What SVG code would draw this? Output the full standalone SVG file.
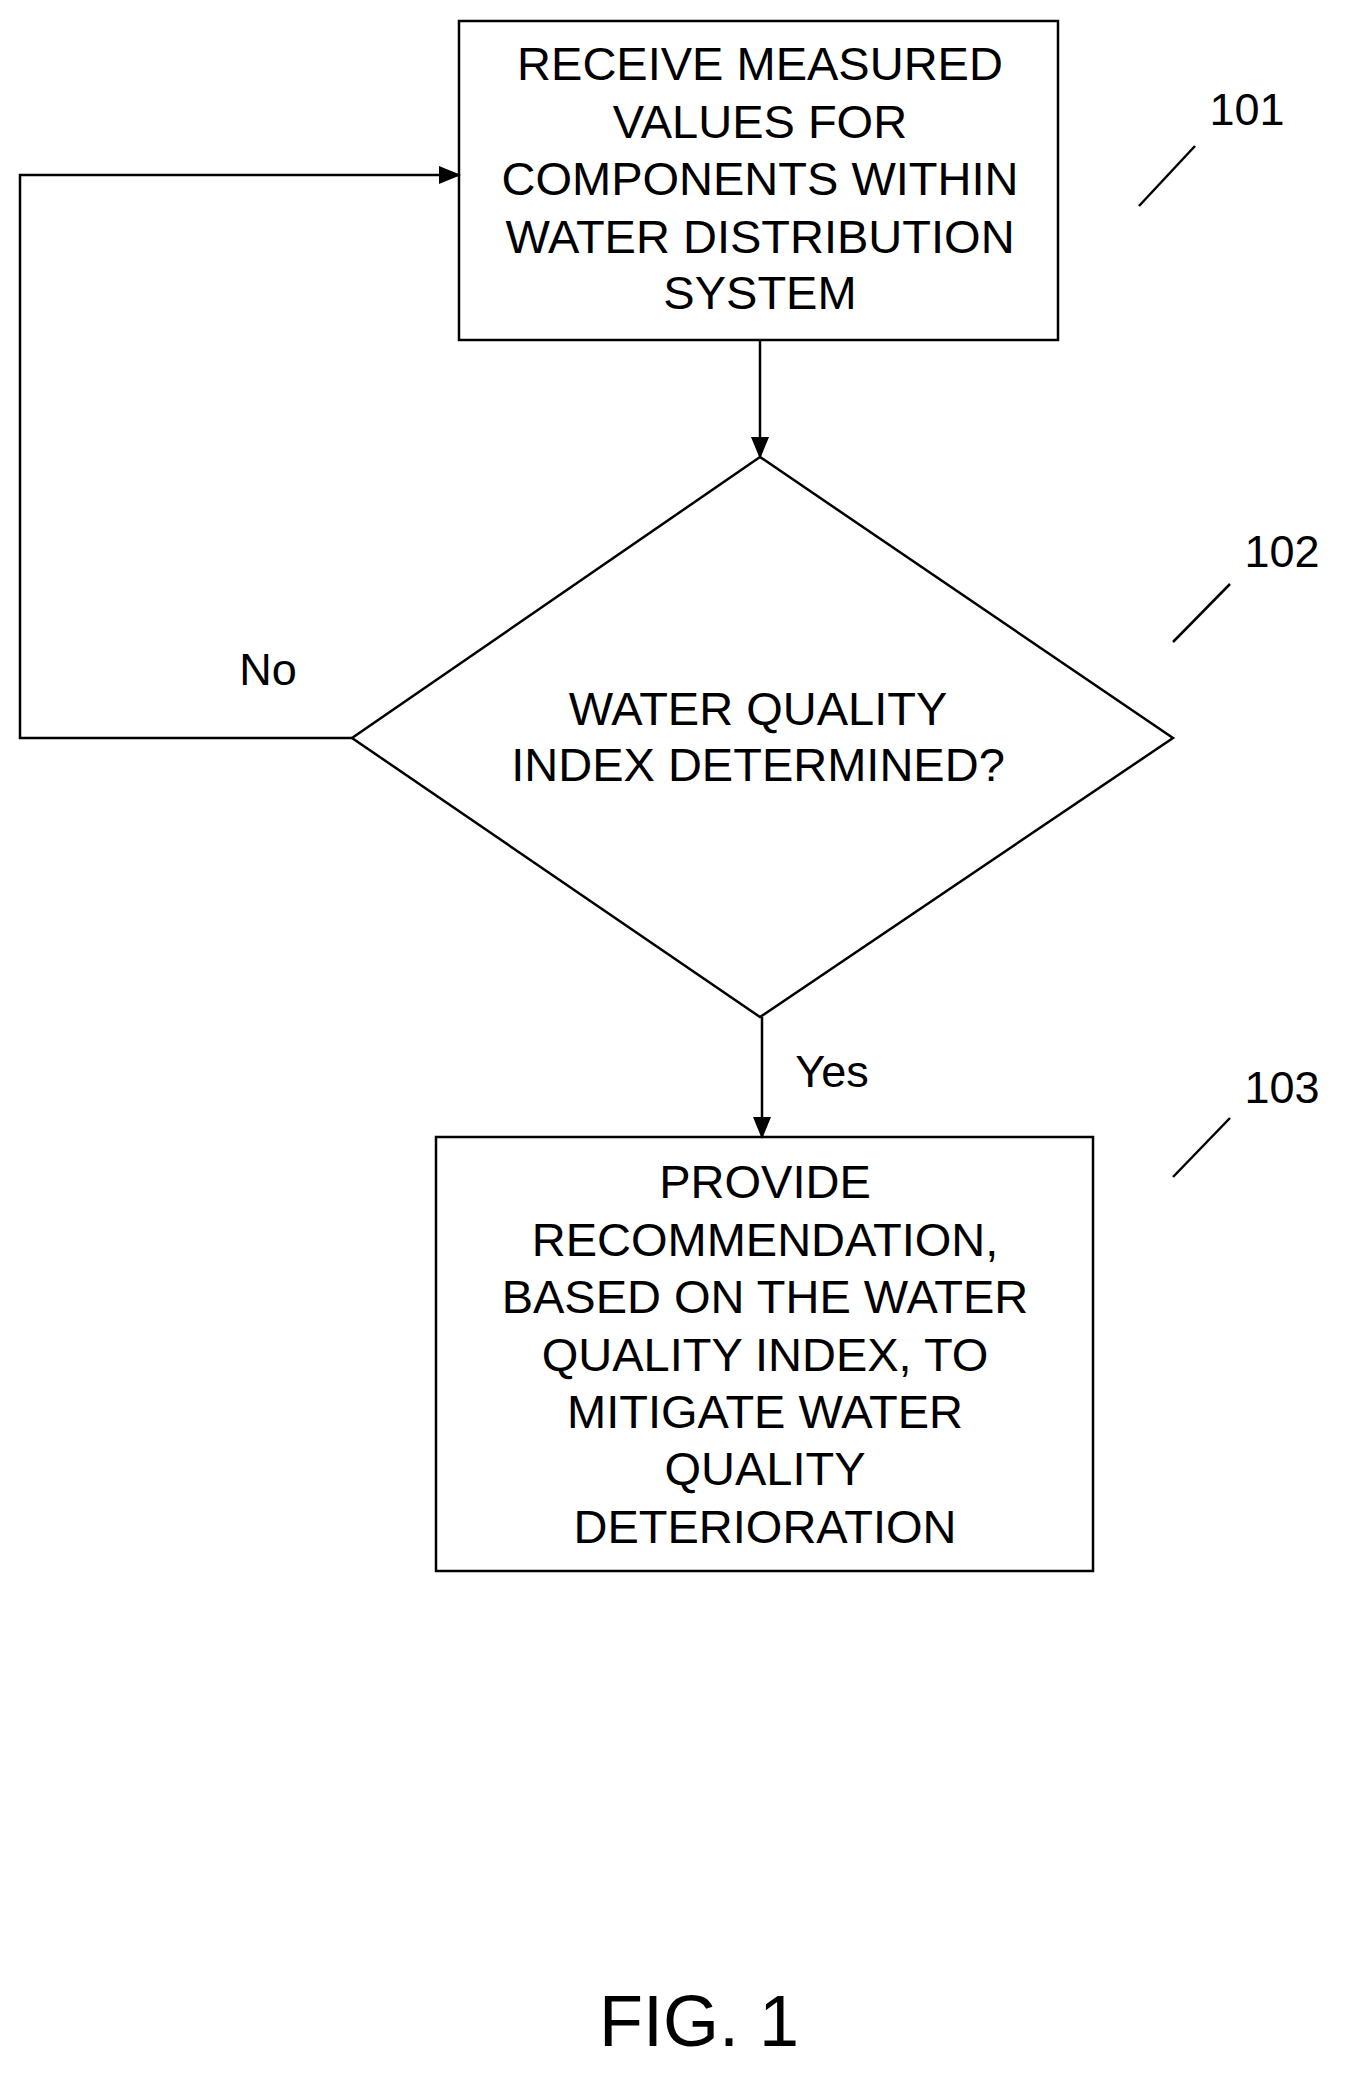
<svg xmlns="http://www.w3.org/2000/svg" width="1350" height="2081" viewBox="0 0 1350 2081">
<style>
.s{fill:none;stroke:#000;stroke-width:2.5}
text{font-family:"Liberation Sans",Arial,sans-serif;font-size:47px;fill:#000;text-anchor:middle}
</style>
<defs><marker id="a" markerWidth="22" markerHeight="18" refX="20" refY="9" orient="auto" markerUnits="userSpaceOnUse"><path d="M0,0L22,9L0,18z" fill="#000"/></marker></defs>
<rect width="1350" height="2081" fill="#fff"/>
<g id="n101"><rect class="s" x="459" y="21" width="599" height="319"/>
<text x="760" y="80">RECEIVE MEASURED</text><text x="760" y="138">VALUES FOR</text><text x="760" y="195">COMPONENTS WITHIN</text><text x="760" y="253">WATER DISTRIBUTION</text><text x="760" y="309">SYSTEM</text></g>
<g id="n102"><polygon class="s" points="760,457 1173,738 760,1017 352,738"/>
<text x="758" y="725">WATER QUALITY</text><text x="758" y="781">INDEX DETERMINED?</text></g>
<g id="n103"><rect class="s" x="436" y="1137" width="657" height="434"/>
<text x="765" y="1198">PROVIDE</text><text x="765" y="1256">RECOMMENDATION,</text><text x="765" y="1313">BASED ON THE WATER</text><text x="765" y="1371">QUALITY INDEX, TO</text><text x="765" y="1428">MITIGATE WATER</text><text x="765" y="1485">QUALITY</text><text x="765" y="1543">DETERIORATION</text></g>
<g id="connectors">
<line class="s" x1="760" y1="340" x2="760" y2="457" marker-end="url(#a)"/>
<line class="s" x1="762" y1="1017" x2="762" y2="1137" marker-end="url(#a)"/>
<polyline class="s" points="352,738 20,738 20,175 459,175" marker-end="url(#a)"/>
<text x="268" y="685" style="font-size:45px">No</text><text x="832" y="1087" style="font-size:45px">Yes</text>
</g>
<g id="labels">
<text x="1247" y="125" style="font-size:45px">101</text><line class="s" x1="1139" y1="206" x2="1195" y2="146"/>
<text x="1282" y="567" style="font-size:45px">102</text><line class="s" x1="1173" y1="642" x2="1230" y2="584"/>
<text x="1282" y="1103" style="font-size:45px">103</text><line class="s" x1="1173" y1="1177" x2="1230" y2="1118"/>
<text x="699" y="2046" style="font-size:72px">FIG. 1</text>
</g>
</svg>
